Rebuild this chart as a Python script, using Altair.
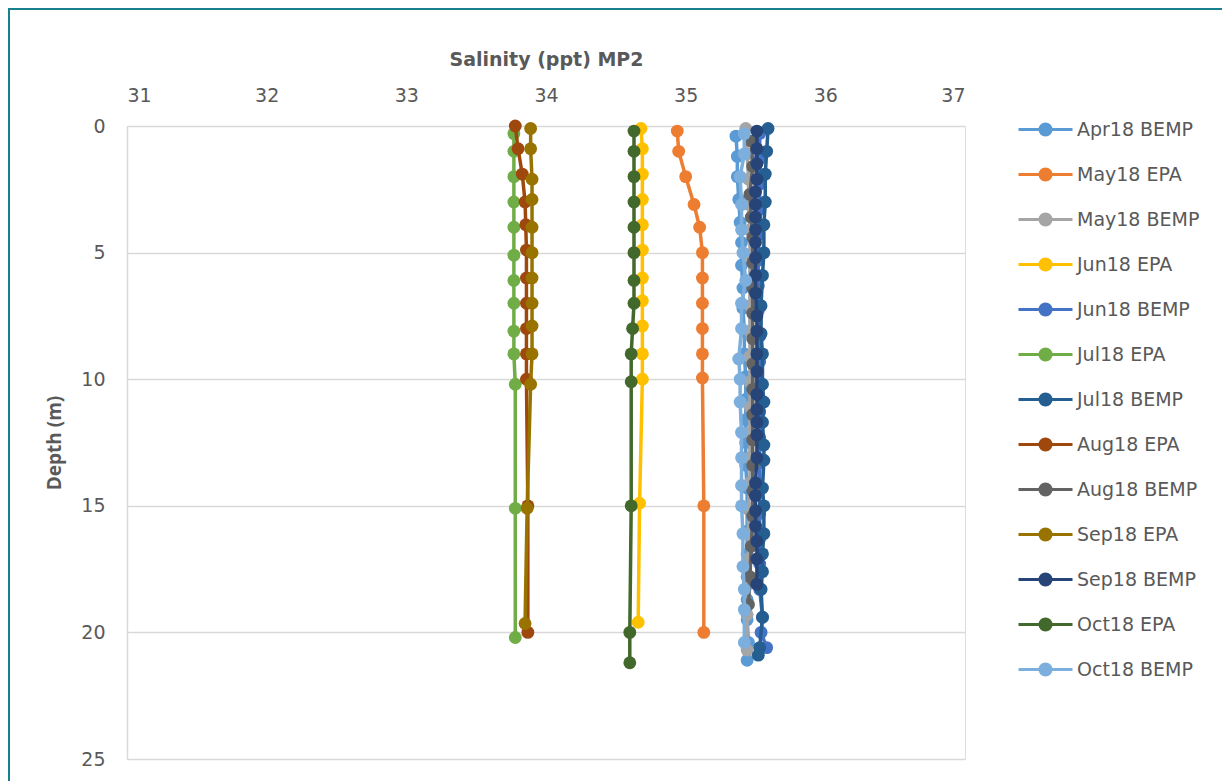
import altair as alt
import pandas as pd

# ---------------- data ----------------
series_names = [
    "Apr18 BEMP", "May18 EPA", "May18 BEMP", "Jun18 EPA", "Jun18 BEMP",
    "Jul18 EPA", "Jul18 BEMP", "Aug18 EPA", "Aug18 BEMP", "Sep18 EPA",
    "Sep18 BEMP", "Oct18 EPA", "Oct18 BEMP",
]
series_colors = [
    "#5B9BD5", "#ED7D31", "#A5A5A5", "#FFC000", "#4472C4",
    "#70AD47", "#255E91", "#9E480E", "#636363", "#997300",
    "#264478", "#43682B", "#7CAFDD",
]

apr18_bemp_depth = [0.4, 1.2, 2.0, 2.9, 3.8, 4.6, 5.5, 6.4, 7.2, 8.1, 9.0, 9.9, 10.8,
                    11.6, 12.5, 13.4, 14.3, 15.1, 16.0, 16.9, 17.8, 18.7, 19.5, 20.4, 21.1]
apr18_bemp_sal = [35.36, 35.37, 35.37, 35.38, 35.39, 35.40, 35.40, 35.41, 35.41, 35.42,
                  35.42, 35.43, 35.43, 35.43, 35.43, 35.43, 35.44, 35.44, 35.44, 35.44,
                  35.44, 35.44, 35.44, 35.45, 35.44]

may18_epa_depth = [0.2, 1.0, 2.0, 3.1, 4.0, 5.0, 6.0, 7.0, 8.0, 9.0, 9.95, 15.0, 20.0]
may18_epa_sal = [34.94, 34.95, 35.00, 35.06, 35.10, 35.12, 35.12, 35.12, 35.12, 35.12,
                 35.12, 35.13, 35.13]

may18_bemp_depth = [0.1, 1.1, 2.1, 3.1, 4.1, 5.1, 6.1, 7.1, 8.1, 9.1, 10.1, 11.1, 12.1,
                    13.1, 14.1, 15.1, 16.1, 17.1, 18.1, 19.3, 20.7]
may18_bemp_sal = [35.43, 35.44, 35.45, 35.45, 35.46, 35.46, 35.46, 35.46, 35.46, 35.46,
                  35.46, 35.46, 35.46, 35.46, 35.46, 35.45, 35.45, 35.45, 35.45, 35.44, 35.44]

jun18_epa_depth = [0.1, 0.9, 1.9, 2.9, 3.9, 4.9, 6.0, 6.9, 7.9, 9.0, 10.0, 14.9, 19.6]
jun18_epa_sal = [34.68, 34.69, 34.69, 34.69, 34.69, 34.69, 34.69, 34.69, 34.69, 34.69,
                 34.69, 34.67, 34.66]

jun18_bemp_depth = [0.3, 1.3, 2.3, 3.3, 4.3, 5.3, 6.3, 7.3, 8.3, 9.3, 10.3, 11.3, 12.3,
                    13.3, 14.3, 15.3, 16.3, 17.3, 18.3, 19.4, 20.0, 20.6]
jun18_bemp_sal = [35.53, 35.53, 35.53, 35.53, 35.52, 35.52, 35.52, 35.52, 35.53, 35.53,
                  35.53, 35.53, 35.53, 35.53, 35.53, 35.53, 35.53, 35.53, 35.53, 35.55,
                  35.54, 35.58]

jul18_epa_depth = [0.3, 1.0, 2.0, 3.0, 4.0, 5.1, 6.1, 7.0, 8.1, 9.0, 10.2, 15.1, 20.2]
jul18_epa_sal = [33.77, 33.77, 33.77, 33.77, 33.77, 33.77, 33.77, 33.77, 33.77, 33.77,
                 33.78, 33.78, 33.78]

jul18_bemp_depth = [0.1, 1.0, 1.9, 3.0, 3.9, 5.0, 5.9, 7.1, 8.2, 9.0, 10.2, 10.9, 11.7,
                    12.6, 13.2, 14.3, 15.0, 16.1, 16.9, 17.6, 18.3, 19.4, 20.6, 20.9]
jul18_bemp_sal = [35.59, 35.58, 35.57, 35.57, 35.56, 35.56, 35.55, 35.54, 35.54, 35.55,
                  35.55, 35.56, 35.55, 35.56, 35.56, 35.55, 35.56, 35.56, 35.55, 35.55,
                  35.54, 35.55, 35.53, 35.52]

aug18_epa_depth = [0.0, 0.9, 1.9, 3.0, 3.9, 4.9, 6.0, 7.0, 8.0, 9.0, 10.0, 15.0, 20.0]
aug18_epa_sal = [33.78, 33.80, 33.83, 33.85, 33.855, 33.86, 33.86, 33.86, 33.86, 33.86,
                 33.86, 33.87, 33.87]

aug18_bemp_depth = [0.6, 1.6, 2.7, 3.6, 4.4, 5.4, 6.4, 7.4, 8.4, 9.4, 10.4, 11.4, 12.4,
                    13.4, 14.4, 15.4, 16.6, 17.8, 18.9]
aug18_bemp_sal = [35.47, 35.48, 35.46, 35.47, 35.48, 35.48, 35.48, 35.48, 35.48, 35.48,
                  35.48, 35.48, 35.48, 35.48, 35.48, 35.48, 35.47, 35.46, 35.45]

sep18_epa_depth = [0.1, 0.9, 2.1, 2.9, 4.0, 5.0, 6.0, 7.0, 7.9, 9.0, 10.2, 15.1, 19.65]
sep18_epa_sal = [33.89, 33.89, 33.90, 33.90, 33.90, 33.90, 33.90, 33.90, 33.90, 33.90,
                 33.89, 33.865, 33.85]

sep18_bemp_depth = [0.2, 0.9, 1.5, 2.1, 2.6, 3.1, 3.6, 4.1, 4.6, 5.2, 5.9, 6.6, 7.5, 8.1,
                    9.0, 9.7, 10.6, 11.2, 11.7, 12.2, 13.1, 14.1, 14.6, 15.2, 15.8, 16.4,
                    17.1, 18.1]
sep18_bemp_sal = [35.51, 35.51, 35.51, 35.51, 35.50, 35.50, 35.50, 35.50, 35.50, 35.50,
                  35.50, 35.50, 35.51, 35.51, 35.51, 35.51, 35.51, 35.51, 35.51, 35.51,
                  35.51, 35.50, 35.50, 35.50, 35.50, 35.51, 35.51, 35.51]

oct18_epa_depth = [0.2, 1.0, 2.0, 3.0, 4.0, 5.0, 6.1, 7.0, 8.0, 9.0, 10.1, 15.0, 20.0, 21.2]
oct18_epa_sal = [34.63, 34.63, 34.63, 34.63, 34.63, 34.63, 34.63, 34.63, 34.62, 34.61,
                 34.61, 34.61, 34.60, 34.60]

oct18_bemp_depth = [0.3, 1.1, 2.0, 3.1, 4.1, 5.0, 6.1, 7.0, 8.0, 9.2, 10.0, 10.9, 12.1,
                    13.1, 14.2, 15.0, 16.1, 17.4, 18.3, 19.1, 20.4]
oct18_bemp_sal = [35.42, 35.42, 35.39, 35.40, 35.40, 35.41, 35.43, 35.40, 35.40, 35.38,
                  35.39, 35.39, 35.40, 35.40, 35.40, 35.40, 35.41, 35.41, 35.42, 35.42, 35.42]

x_ticks = [31, 32, 33, 34, 35, 36, 37]
y_ticks = [0, 5, 10, 15, 20, 25]

depth_lists = [apr18_bemp_depth, may18_epa_depth, may18_bemp_depth, jun18_epa_depth,
               jun18_bemp_depth, jul18_epa_depth, jul18_bemp_depth, aug18_epa_depth,
               aug18_bemp_depth, sep18_epa_depth, sep18_bemp_depth, oct18_epa_depth,
               oct18_bemp_depth]
sal_lists = [apr18_bemp_sal, may18_epa_sal, may18_bemp_sal, jun18_epa_sal,
             jun18_bemp_sal, jul18_epa_sal, jul18_bemp_sal, aug18_epa_sal,
             aug18_bemp_sal, sep18_epa_sal, sep18_bemp_sal, oct18_epa_sal,
             oct18_bemp_sal]

rows = []
for name, dl, sl in zip(series_names, depth_lists, sal_lists):
    for k, (d, s) in enumerate(zip(dl, sl)):
        rows.append({"series": name, "depth": d, "salinity": s, "idx": k})
df = pd.DataFrame(rows)

# ---------------- styling ----------------
FONT = "DejaVu Sans"
FONT_V = "Open Sans"
TXT = "#595959"
GRID = "#D9D9D9"

xscale = alt.Scale(domain=[31, 37], nice=False, zero=False)
yscale = alt.Scale(domain=[0, 25], reverse=True, nice=False, zero=False)
cscale = alt.Scale(domain=series_names, range=series_colors)

x_axis = alt.Axis(orient="top", values=x_ticks, title="Salinity (ppt) MP2",
                  domain=False, ticks=False, tickSize=0, grid=False,
                  labelFont=FONT, labelFontSize=19, labelColor=TXT, labelPadding=21,
                  titleFont=FONT, titleFontSize=19, titleFontWeight="bold",
                  titleColor=TXT, titlePadding=17)
y_axis = alt.Axis(values=y_ticks, title="Depth (m)", grid=True, gridColor=GRID,
                  gridWidth=1.5, domain=True, domainColor=GRID, domainWidth=1.5,
                  ticks=False, tickSize=0,
                  labelFont=FONT, labelFontSize=19, labelColor=TXT, labelPadding=22,
                  titleFont=FONT_V, titleFontSize=19, titleFontWeight="bold",
                  titleColor=TXT, titlePadding=16)

legend_path = ("M-1.8,0L1.8,0"
               "M0.37,0A0.37,0.37,0,1,1,-0.37,0A0.37,0.37,0,1,1,0.37,0"
               "M0.2,0A0.2,0.2,0,1,1,-0.2,0A0.2,0.2,0,1,1,0.2,0"
               "M0.05,0A0.05,0.05,0,1,1,-0.05,0A0.05,0.05,0,1,1,0.05,0")
legend = alt.Legend(title=None, orient="none", legendX=902, legendY=-13,
                    symbolType=legend_path, symbolSize=900, symbolStrokeWidth=3,
                    labelFont=FONT, labelFontSize=19, labelColor=TXT,
                    labelOffset=15, rowPadding=16, padding=0, symbolOffset=0)

X = alt.X("salinity:Q", scale=xscale, axis=x_axis)
Y = alt.Y("depth:Q", scale=yscale, axis=y_axis)
C = alt.Color("series:N", scale=cscale, legend=legend)

base = alt.Chart(df)
layers = []
for name in series_names:
    sel = base.transform_filter(alt.datum.series == name)
    layers.append(sel.mark_line(strokeWidth=3.5).encode(x=X, y=Y, color=C, order=alt.Order("idx:Q")))
    layers.append(sel.mark_circle(size=165, opacity=1).encode(x=X, y=Y, color=C))

frame_df = pd.DataFrame({"k": [0]})
frame_left = alt.Chart(frame_df).mark_rule(color="#17808F", strokeWidth=2).encode(
    x=alt.value(-118), y=alt.value(-118), y2=alt.value(700))
frame_top = alt.Chart(frame_df).mark_rule(color="#17808F", strokeWidth=2).encode(
    x=alt.value(-119), x2=alt.value(1120), y=alt.value(-117))

chart = alt.layer(frame_left, frame_top, *layers).properties(
    width=838, height=633,
    autosize=alt.AutoSizeParams(type="none"),
    padding={"left": 119, "top": 118, "right": 257, "bottom": 22},
).configure_view(stroke=None).configure(background="white")

chart.save("out.html", embed_options={"renderer": "svg", "actions": False})
